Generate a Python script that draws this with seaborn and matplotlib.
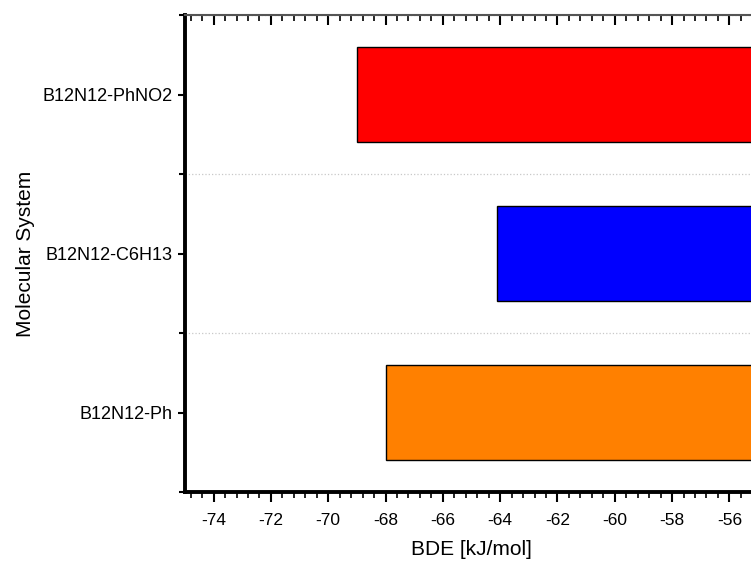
import pandas as pd
import seaborn as sns
import matplotlib.pyplot as plt
from matplotlib.ticker import MultipleLocator, FixedLocator

systems = ['B12N12-PhNO2', 'B12N12-C6H13', 'B12N12-Ph']
bde = [-69.0, -64.1, -68.0]
colors = ['#FF0000', '#0000FF', '#FF8000']

df = pd.DataFrame({'System': systems, 'BDE': bde})

sns.set_theme(style='ticks')
plt.rcParams['font.family'] = ['Liberation Sans', 'DejaVu Sans']
plt.rcParams['axes.unicode_minus'] = False
plt.rcParams['text.color'] = 'black'
plt.rcParams['axes.labelcolor'] = 'black'
plt.rcParams['xtick.labelcolor'] = 'black'
plt.rcParams['ytick.labelcolor'] = 'black'

fig = plt.figure(figsize=(7.51, 5.62), dpi=100)
# axes runs off the right edge like the cropped original
ax = fig.add_axes([185 / 751, 70 / 562, 573 / 751, 477 / 562])

sns.barplot(data=df, x='BDE', y='System', hue='System', order=systems,
            palette=colors, saturation=1, orient='h', width=0.6,
            edgecolor='black', linewidth=1, legend=False, ax=ax)

ax.set_xlim(-75, -55)
ax.set_ylim(2.5, -0.5)
ax.xaxis.set_major_locator(MultipleLocator(2))
ax.xaxis.set_minor_locator(MultipleLocator(0.4))
ax.yaxis.set_minor_locator(FixedLocator([-0.5, 0.5, 1.5, 2.5]))

ax.grid(which='minor', axis='y', color='#c8c8c8', linestyle=':', linewidth=0.9)
ax.set_axisbelow(True)

ax.tick_params(axis='x', which='major', direction='out', length=7, width=1.5,
               top=True, labelsize=12.5, color='black', pad=8)
ax.tick_params(axis='x', which='minor', direction='out', length=4, width=1.2,
               top=True, color='black')
ax.tick_params(axis='y', which='major', direction='out', length=5, width=1.5,
               labelsize=13, color='black', pad=4)
ax.tick_params(axis='y', which='minor', direction='out', length=4, width=1.5,
               color='black')
# top ticks point into the plot
for t in ax.xaxis.get_major_ticks() + ax.xaxis.get_minor_ticks():
    t.tick2line.set_marker(3)

for side in ['left', 'bottom']:
    ax.spines[side].set_linewidth(2.8)
    ax.spines[side].set_color('black')
ax.spines['top'].set_linewidth(1.5)
ax.spines['top'].set_color('#555555')
ax.spines['right'].set_visible(False)

ax.set_xlabel('BDE [kJ/mol]', fontsize=15, labelpad=9)
ax.set_ylabel('Molecular System', fontsize=15, labelpad=5)

fig.savefig('out.png', dpi=100)
